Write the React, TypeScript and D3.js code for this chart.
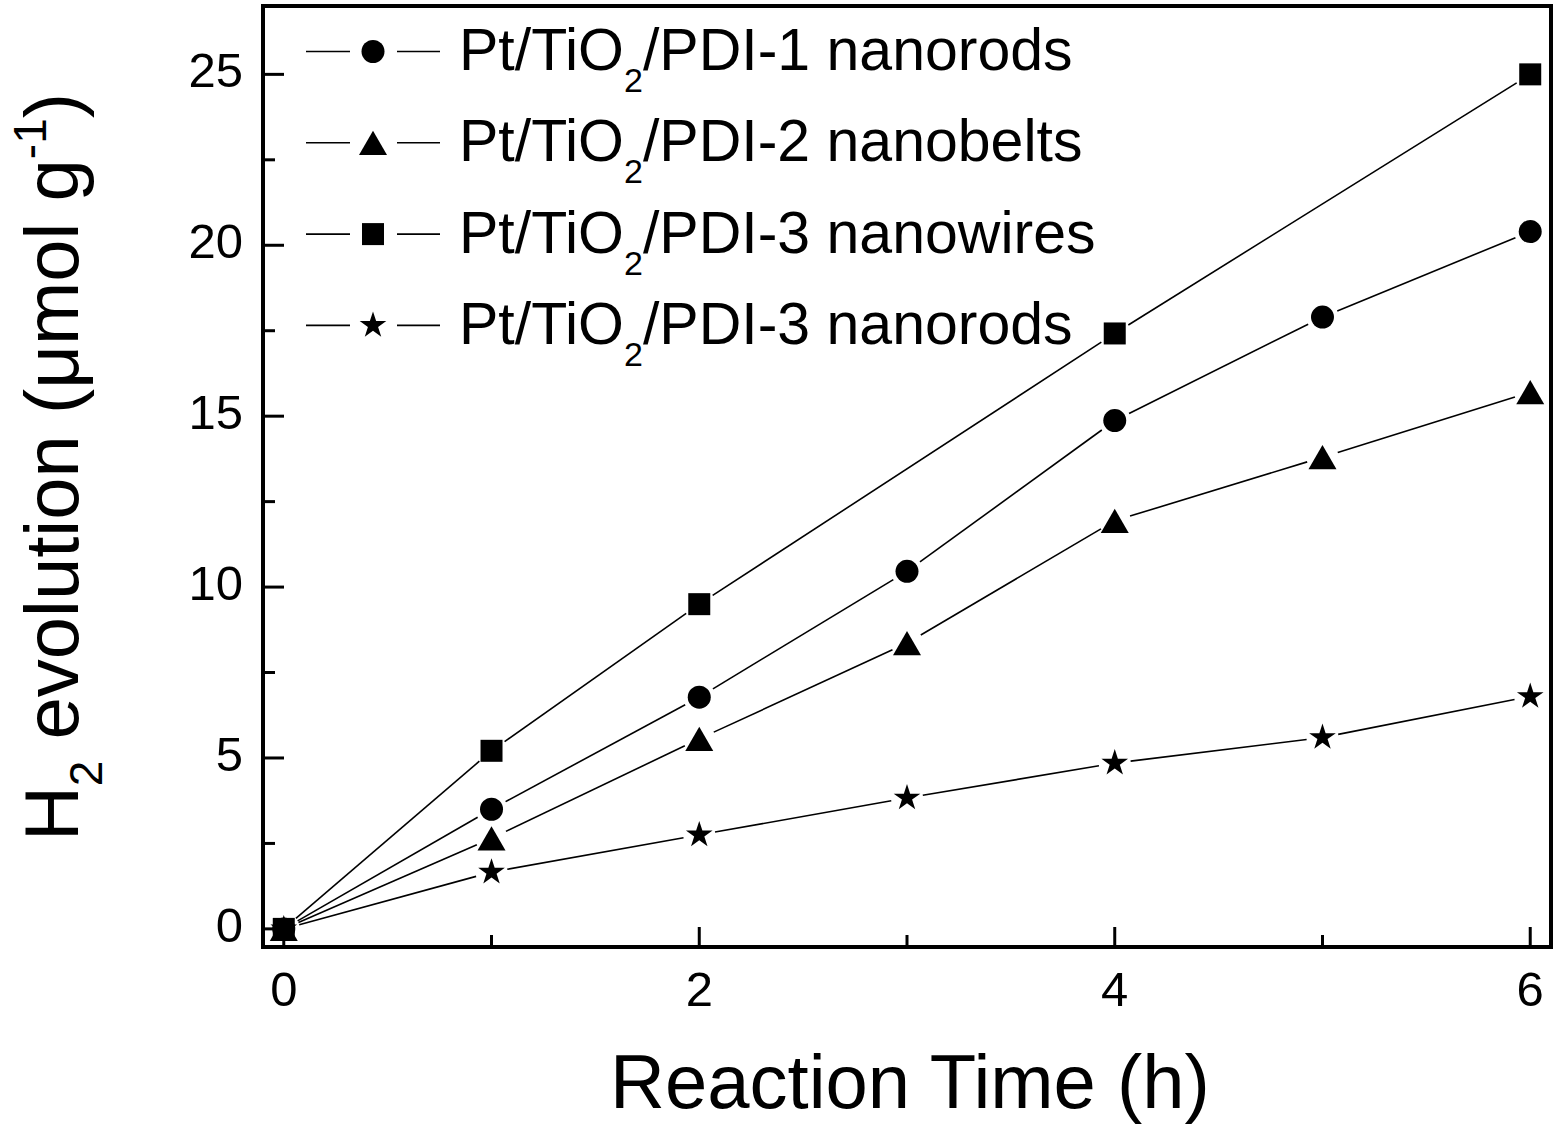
import React from 'react';
import * as d3 from 'd3';

// ---- data ----
const hours = [0, 1, 2, 3, 4, 5, 6];
const hoursWires = [0, 1, 2, 4, 6];
const pdi1Rods = [0, 3.5, 6.78, 10.46, 14.87, 17.9, 20.4];
const pdi2Belts = [0, 2.65, 5.56, 8.36, 11.94, 13.8, 15.7];
const pdi3Wires = [0, 5.21, 9.5, 17.42, 25.0];
const pdi3Rods = [0, 1.66, 2.75, 3.83, 4.85, 5.6, 6.8];

const xTickValues = [0, 2, 4, 6];
const xMinorTicks = [1, 3, 5];
const yTickValues = [0, 5, 10, 15, 20, 25];
const yMinorTicks = [2.5, 7.5, 12.5, 17.5, 22.5];

const legendNames = ['/PDI-1 nanorods', '/PDI-2 nanobelts', '/PDI-3 nanowires', '/PDI-3 nanorods'];

const FONT = "'Liberation Sans', Arial, Helvetica, sans-serif";

const triangleBox = {
  draw(ctx: any, size: number) {
    const s = Math.sqrt(size);
    const h = (s * Math.sqrt(3)) / 2;
    ctx.moveTo(0, -h / 2);
    ctx.lineTo(s / 2, h / 2);
    ctx.lineTo(-s / 2, h / 2);
    ctx.closePath();
  },
};

const symbols = [
  d3.symbol().type(d3.symbolCircle).size(415)(),
  d3.symbol().type(triangleBox as any).size(784)(),
  d3.symbol().type(d3.symbolSquare).size(484)(),
  d3.symbol().type(d3.symbolStar).size(220)(),
];

export default function App() {
  const W = 1559;
  const H = 1130;
  const left = 263, right = 1551, top = 6, bottom = 947;

  const x = d3.scaleLinear().domain([-0.1, 6.1]).range([left, right]);
  const y = d3.scaleLinear().domain([-0.53, 27.0]).range([bottom, top]);

  const series = [
    { xs: hours, ys: pdi1Rods },
    { xs: hours, ys: pdi2Belts },
    { xs: hoursWires, ys: pdi3Wires },
    { xs: hours, ys: pdi3Rods },
  ];

  const line = d3.line();
  const gap = 16;

  const segments = (xs: number[], ys: number[]) => {
    const out: string[] = [];
    for (let i = 0; i < xs.length - 1; i++) {
      const x1 = x(xs[i]), y1 = y(ys[i]), x2 = x(xs[i + 1]), y2 = y(ys[i + 1]);
      const dx = x2 - x1, dy = y2 - y1;
      const len = Math.hypot(dx, dy);
      if (len <= 2 * gap) continue;
      const ux = dx / len, uy = dy / len;
      out.push(line([[x1 + ux * gap, y1 + uy * gap], [x2 - ux * gap, y2 - uy * gap]]) as string);
    }
    return out;
  };

  const legendBase = [70, 161.3, 252.6, 343.9];

  return (
    <svg width={W} height={H} style={{ position: 'absolute', left: 0, top: 0, background: '#fff' }} fontFamily={FONT}>
      <rect x={0} y={0} width={W} height={H} fill="#fff" />

      {/* series lines */}
      {series.map((s, si) =>
        segments(s.xs, s.ys).map((d, i) => (
          <path key={`l${si}-${i}`} d={d} stroke="#000" strokeWidth={1.6} fill="none" />
        ))
      )}
      {/* markers */}
      {series.map((s, si) =>
        s.xs.map((xv, i) => (
          <path key={`m${si}-${i}`} d={symbols[si] as string} transform={`translate(${x(xv)},${y(s.ys[i])})`} fill="#000" />
        ))
      )}

      {/* frame */}
      <rect x={left} y={top} width={right - left} height={bottom - top} fill="none" stroke="#000" strokeWidth={4} />

      {/* x ticks */}
      {xTickValues.map((v) => (
        <g key={`xt${v}`}>
          <line x1={x(v)} x2={x(v)} y1={bottom} y2={bottom - 20} stroke="#000" strokeWidth={3} />
          <text x={x(v)} y={1006} fontSize={49} textAnchor="middle">{v}</text>
        </g>
      ))}
      {xMinorTicks.map((v) => (
        <line key={`xm${v}`} x1={x(v)} x2={x(v)} y1={bottom} y2={bottom - 12} stroke="#000" strokeWidth={3} />
      ))}
      {/* y ticks */}
      {yTickValues.map((v) => (
        <g key={`yt${v}`}>
          <line x1={left} x2={left + 21} y1={y(v)} y2={y(v)} stroke="#000" strokeWidth={3} />
          <text x={243} y={y(v) + 13} fontSize={49} textAnchor="end">{v}</text>
        </g>
      ))}
      {yMinorTicks.map((v) => (
        <line key={`ym${v}`} x1={left} x2={left + 12} y1={y(v)} y2={y(v)} stroke="#000" strokeWidth={3} />
      ))}

      {/* axis titles */}
      <text x={910} y={1108} fontSize={76} textAnchor="middle">Reaction Time (h)</text>
      <text transform="translate(78,467) rotate(-90)" fontSize={76} textAnchor="middle">
        <tspan>H</tspan>
        <tspan fontSize={46} dy={24}>2</tspan>
        <tspan dy={-24}> evolution (μmol g</tspan>
        <tspan fontSize={46} dy={-32}>-1</tspan>
        <tspan dy={32}>)</tspan>
      </text>

      {/* legend */}
      {legendNames.map((name, i) => {
        const ly = legendBase[i] - 18.5;
        return (
          <g key={`lg${i}`}>
            <line x1={306} x2={350} y1={ly} y2={ly} stroke="#000" strokeWidth={1.6} />
            <line x1={397} x2={440} y1={ly} y2={ly} stroke="#000" strokeWidth={1.6} />
            <path d={symbols[i] as string} transform={`translate(373,${ly})`} fill="#000" />
            <text x={459} y={legendBase[i]} fontSize={59}>
              <tspan>Pt/TiO</tspan>
              <tspan fontSize={34} dy={22}>2</tspan>
              <tspan dy={-22}>{name}</tspan>
            </text>
          </g>
        );
      })}
    </svg>
  );
}
